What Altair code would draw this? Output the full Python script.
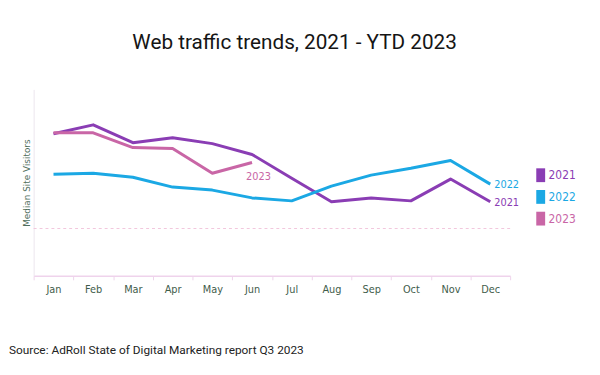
import altair as alt
import pandas as pd

months = ["Jan", "Feb", "Mar", "Apr", "May", "Jun", "Jul", "Aug", "Sep", "Oct", "Nov", "Dec"]
years = ["2021", "2022", "2023"]
v2021 = [76.2, 81.0, 71.4, 74.1, 70.9, 65.1, 52.4, 39.7, 41.8, 40.2, 51.9, 39.7]
v2022 = [54.5, 55.0, 52.9, 47.6, 46.0, 41.8, 40.2, 48.1, 54.0, 57.7, 61.9, 49.2]
v2023 = [76.7, 76.7, 68.8, 68.3, 55.0, 60.8]
colors = ["#8a3db4", "#1ba8e4", "#c966a6"]
baseline = [25.4]

rows = []
for yr, vals in zip(years, [v2021, v2022, v2023]):
    for m, v in zip(months, vals):
        rows.append({"month": m, "year": yr, "value": v})
df = pd.DataFrame(rows)

end_df = pd.DataFrame([
    {"month": "Dec", "year": "2021", "value": v2021[-1]},
    {"month": "Dec", "year": "2022", "value": v2022[-1]},
])
end23 = pd.DataFrame([{"month": "Jun", "year": "2023", "value": v2023[-1]}])
base_df = pd.DataFrame({"b": baseline})
src_df = pd.DataFrame({"t": ["Source: AdRoll State of Digital Marketing report Q3 2023"]})

NARROW = "Liberation Sans Narrow, DejaVu Sans Condensed, sans-serif"

xenc = alt.X(
    "month:O",
    sort=months,
    bandPosition=0.5,
    scale=alt.Scale(type="band", paddingInner=0, paddingOuter=0),
    axis=alt.Axis(
        title=None, labelAngle=0, tickBand="extent", domainColor="#efd3ec",
        tickColor="#efd3ec", tickSize=4, labelPadding=4, labelFont=NARROW,
        labelFontSize=11, labelColor="#3f5d4b", domainWidth=1.5,
    ),
)
yenc = alt.Y(
    "value:Q",
    scale=alt.Scale(domain=[0, 100], nice=False),
    axis=alt.Axis(
        title="Median Site Visitors", labels=False, ticks=False, grid=False,
        domainColor="#ece6ee", titleFontSize=9, titleFont="DejaVu Sans",
        titleColor="#4f6e5b", titleFontWeight="normal", titlePadding=2,
    ),
)
cscale = alt.Scale(domain=years, range=colors)

rule = alt.Chart(base_df).mark_rule(
    strokeDash=[3, 3], color="#f2c6dc", strokeWidth=1
).encode(y=alt.Y("b:Q", scale=alt.Scale(domain=[0, 100], nice=False)))

lines = alt.Chart(df).mark_line(strokeJoin="round").encode(
    x=xenc,
    y=yenc,
    strokeWidth=alt.value(3),
    color=alt.Color(
        "year:N", scale=cscale,
        legend=alt.Legend(
            title=None, orient="none", legendX=508, legendY=81,
            symbolType="M-0.9,-1.4L0.9,-1.4L0.9,1.4L-0.9,1.4Z", symbolSize=100,
            symbolStrokeWidth=0,
            symbolFillColor=alt.ExprRef("scale('color', datum.value)"),
            rowPadding=8, labelOffset=2, labelFont=NARROW, labelFontSize=12,
            labelColor=alt.ExprRef("scale('color', datum.value)"), padding=0,
        ),
    ),
)

end_text = alt.Chart(end_df).mark_text(
    align="left", baseline="middle", dx=4, dy=1, font=NARROW, fontSize=11
).encode(
    x=alt.X("month:O", sort=months, bandPosition=0.5),
    y="value:Q",
    color=alt.Color("year:N", scale=cscale, legend=None),
    text="year:N",
)

t23 = alt.Chart(end23).mark_text(
    align="left", baseline="middle", dx=-6, dy=15, font=NARROW, fontSize=11
).encode(
    x=alt.X("month:O", sort=months, bandPosition=0.5),
    y="value:Q",
    color=alt.Color("year:N", scale=cscale, legend=None),
    text="year:N",
)

src = alt.Chart(src_df).mark_text(
    align="left", baseline="alphabetic", font="Roboto", fontSize=12, color="#222222"
).encode(x=alt.value(-25), y=alt.value(268), text="t:N")

chart = alt.layer(rule, lines, end_text, t23, src).properties(
    width=483, height=189,
    autosize=alt.AutoSizeParams(type="none"),
    padding={"left": 26, "top": 80, "right": 83, "bottom": 98},
    title=alt.Title(
        "Web traffic trends, 2021 - YTD 2023", font="Roboto", fontSize=21,
        fontWeight="normal", color="#151515", anchor="middle", dx=23,
        baseline="alphabetic", offset=20,
    ),
    background="white",
).configure_view(stroke=None)

chart.save("out.html", embed_options={"renderer": "svg", "actions": False})
